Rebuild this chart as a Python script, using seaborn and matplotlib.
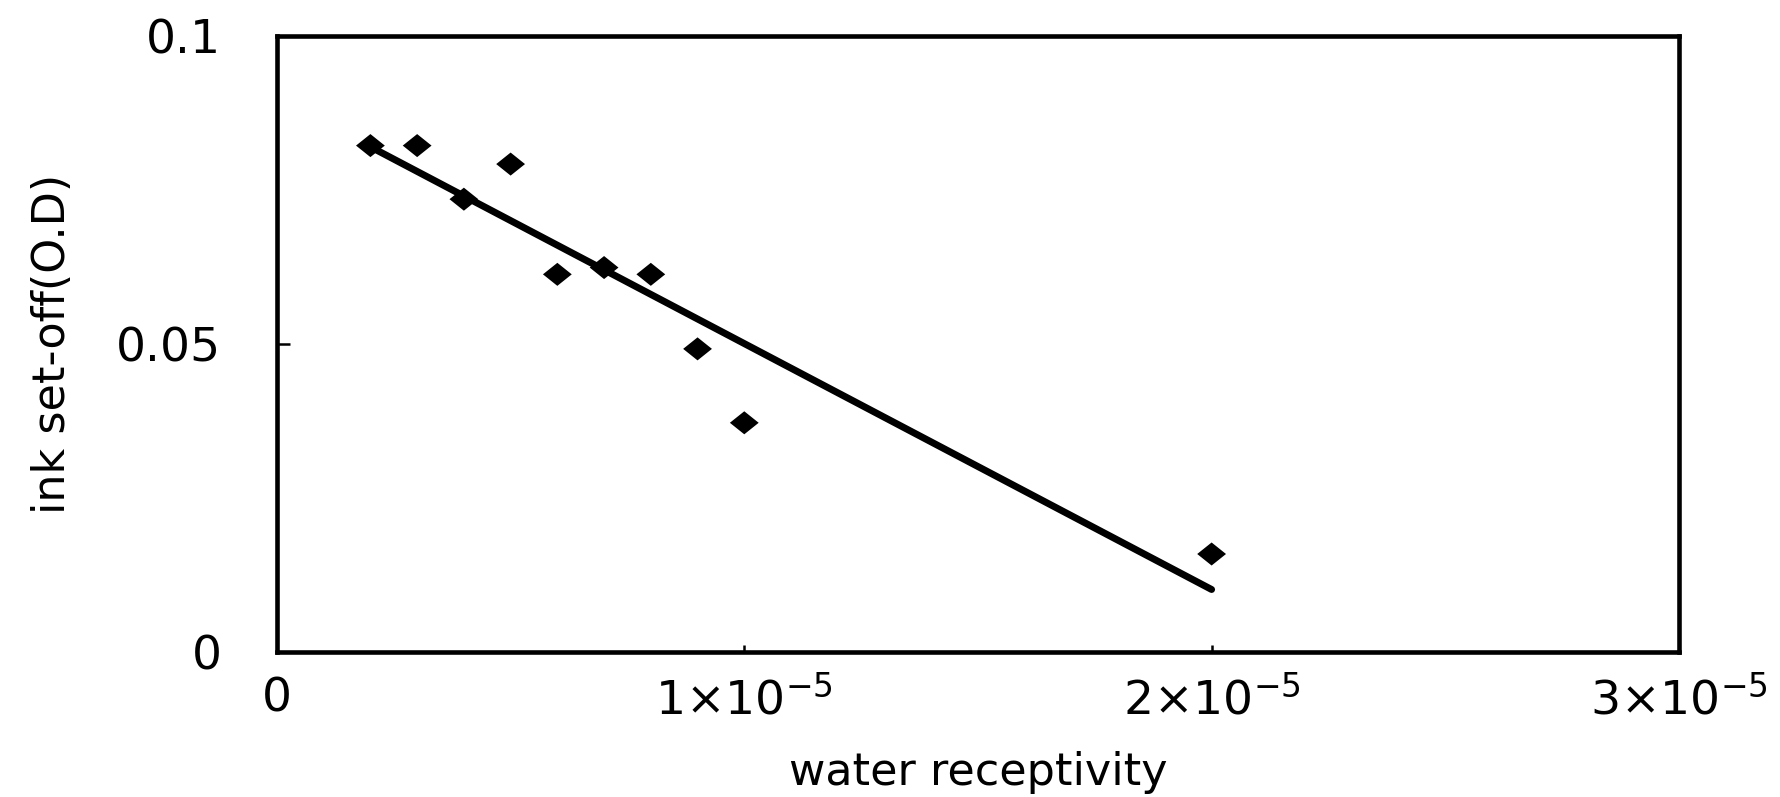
import pandas as pd
import matplotlib
matplotlib.use("Agg")
import matplotlib.pyplot as plt
import seaborn as sns

# values
water_receptivity = [2e-6, 3e-6, 4e-6, 5e-6, 6e-6, 7e-6, 8e-6, 9e-6, 10e-6, 20e-6]
ink_set_off = [0.0822, 0.0822, 0.0735, 0.0792, 0.0613, 0.0624, 0.0613, 0.0492, 0.0372, 0.0159]

x_ticks = [0, 1e-5, 2e-5, 3e-5]
x_tick_labels = ["0", r"$1{\times}10^{-5}$", r"$2{\times}10^{-5}$", r"$3{\times}10^{-5}$"]
y_ticks = [0, 0.05, 0.1]
y_tick_labels = ["0", "0.05", "0.1"]

data = pd.DataFrame({"water receptivity": water_receptivity,
                     "ink set-off(O.D)": ink_set_off})

sns.set_style("ticks")
plt.rcParams["font.family"] = ["DejaVu Sans"]
plt.rcParams["mathtext.fontset"] = "dejavusans"

fig = plt.figure(figsize=(17.81, 7.97), dpi=100)
ax = fig.add_axes([0.1555, 0.182, 0.7872, 0.7729])

# flat diamond, a bit wider than tall like the original markers
diamond = [(-1, 0), (0, 0.8), (1, 0), (0, -0.8)]

# scatter points plus the least-squares line over the data range
sns.regplot(x="water receptivity", y="ink set-off(O.D)", data=data, ax=ax,
            ci=None, marker=diamond, color="black",
            scatter_kws={"s": 430, "edgecolors": "none", "alpha": 1},
            line_kws={"linewidth": 5, "color": "black"})

ax.set_xlim(0, 3e-5)
ax.set_ylim(0, 0.1)
ax.set_xticks(x_ticks)
ax.set_xticklabels(x_tick_labels)
ax.set_yticks(y_ticks)
ax.set_yticklabels(y_tick_labels)
ax.tick_params(direction="in", width=1.8, labelsize=34, colors="black")
ax.tick_params(axis="x", pad=18, length=5)
ax.tick_params(axis="y", pad=40, length=9)

for side in ["top", "right", "bottom", "left"]:
    ax.spines[side].set_visible(True)
    ax.spines[side].set_linewidth(3.3)
    ax.spines[side].set_color("black")

ax.set_xlabel("water receptivity", fontsize=32, color="black")
ax.set_ylabel("ink set-off(O.D)", fontsize=32, color="black")
ax.xaxis.set_label_coords(0.5, -0.16)
ax.yaxis.set_label_coords(-0.145, 0.5)

fig.savefig("out.png", dpi=100, facecolor="white")
